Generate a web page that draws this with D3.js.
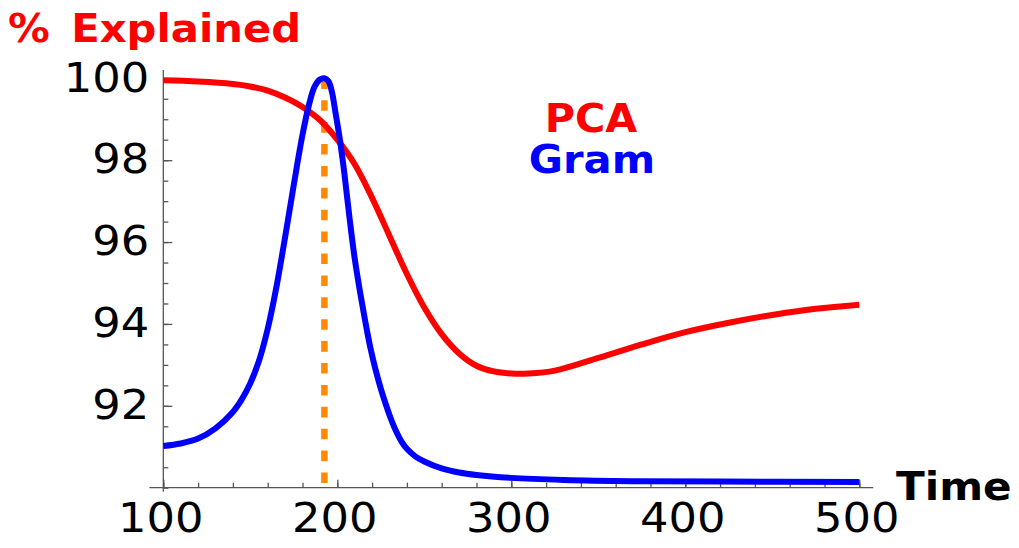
<!DOCTYPE html>
<html>
<head>
<meta charset="utf-8">
<script src="https://cdn.jsdelivr.net/npm/d3@7"></script>
<style>
  html, body { margin: 0; padding: 0; background: #fff; }
  svg { display: block; }
  text { font-family: "DejaVu Sans", sans-serif; }
</style>
</head>
<body>
<svg id="chart" width="1019" height="548"></svg>
<script>
// Time samples and percentage of variance explained
const pcaTime = [100, 120, 140, 150, 160, 170, 180, 190, 200, 210, 220, 230, 240, 250, 260, 270, 280, 290, 300, 310, 325, 350, 375, 400, 425, 450, 475, 500];
const pcaValues = [99.95, 99.92, 99.86, 99.8, 99.7, 99.53, 99.3, 98.98, 98.5, 97.9, 97.08, 96.15, 95.22, 94.4, 93.75, 93.28, 92.98, 92.84, 92.79, 92.79, 92.86, 93.17, 93.5, 93.8, 94.03, 94.22, 94.37, 94.47];

const gramTime = [100, 110, 120, 130, 140, 145, 150, 155, 160, 165, 170, 175, 180, 184, 187, 190, 192.6, 195, 197, 199, 201.5, 204, 207, 210, 213, 216, 219, 222, 225, 228, 231, 234, 237, 240, 245, 250, 260, 270, 280, 300, 330, 370, 420, 500];
const gramValues = [91.02, 91.08, 91.2, 91.45, 91.85, 92.15, 92.55, 93.1, 93.88, 94.9, 96.12, 97.4, 98.62, 99.4, 99.8, 99.97, 100.0, 99.92, 99.65, 99.15, 98.5, 97.7, 96.6, 95.6, 94.8, 94.08, 93.42, 92.88, 92.42, 92.02, 91.66, 91.36, 91.12, 90.95, 90.76, 90.64, 90.47, 90.37, 90.31, 90.24, 90.19, 90.16, 90.15, 90.14];

const peakTime = 192.6;

const xMajor = [100, 200, 300, 400, 500];
const xMinor = d3.range(100, 501, 20);
const yMajor = [92, 94, 96, 98, 100];
const yMinor = d3.range(90, 100.01, 0.5);

const svg = d3.select("#chart");

const x = d3.scaleLinear().domain([100, 500]).range([163.3, 859.3]);
const y = d3.scaleLinear().domain([90, 100]).range([487.7, 78.3]);

const axisColor = "#555";
const tickStretch = 1.12;

// Axis lines, running a little past the data range
svg.append("line")
  .attr("x1", x(92)).attr("x2", x(508))
  .attr("y1", y(90)).attr("y2", y(90))
  .attr("stroke", axisColor).attr("stroke-width", 1.3);
svg.append("line")
  .attr("x1", x(100)).attr("x2", x(100))
  .attr("y1", y(89.9)).attr("y2", y(100.2))
  .attr("stroke", axisColor).attr("stroke-width", 1.3);

// Minor ticks
const gxMinor = svg.append("g").attr("transform", `translate(0,${y(90)})`)
  .call(d3.axisBottom(x).tickValues(xMinor).tickSize(-5).tickFormat(""));
const gyMinor = svg.append("g").attr("transform", `translate(${x(100)},0)`)
  .call(d3.axisLeft(y).tickValues(yMinor).tickSize(-5).tickFormat(""));

// Major ticks with labels
const gx = svg.append("g").attr("transform", `translate(0,${y(90)})`)
  .call(d3.axisBottom(x).tickValues(xMajor).tickSize(-8).tickPadding(16).tickFormat(d3.format("d")));
const gy = svg.append("g").attr("transform", `translate(${x(100)},0)`)
  .call(d3.axisLeft(y).tickValues(yMajor).tickSize(-9).tickPadding(14).tickFormat(d3.format("d")));

[gxMinor, gyMinor, gx, gy].forEach(g => {
  g.select(".domain").remove();
  g.selectAll(".tick line").attr("stroke", axisColor).attr("stroke-width", 1.3);
});
[gx, gy].forEach(g => {
  g.selectAll(".tick text")
    .attr("font-family", "DejaVu Sans")
    .attr("font-size", 40)
    .attr("fill", "#000");
});
// Slightly wider digits, stretched about each label's anchor
gx.selectAll(".tick text")
  .attr("x", -3 / tickStretch)
  .attr("transform", `scale(${tickStretch},1)`);
gy.selectAll(".tick text")
  .attr("x", -14 / tickStretch)
  .attr("transform", `scale(${tickStretch},1)`);

// Dashed marker at the Gram peak
svg.append("line")
  .attr("x1", x(peakTime)).attr("x2", x(peakTime))
  .attr("y1", y(100)).attr("y2", y(90))
  .attr("stroke", "#ff8a00")
  .attr("stroke-width", 6.5)
  .attr("stroke-dasharray", "10.6 11.3");

const line = (ts, vs) => d3.line()
  .x((d, i) => x(ts[i]))
  .y(d => y(d))
  .curve(d3.curveCatmullRom.alpha(0.5))(vs);

svg.append("path")
  .attr("d", line(pcaTime, pcaValues))
  .attr("fill", "none").attr("stroke", "#ff0000").attr("stroke-width", 6)
  .attr("stroke-linejoin", "round");

svg.append("path")
  .attr("d", line(gramTime, gramValues))
  .attr("fill", "none").attr("stroke", "#0000ff").attr("stroke-width", 6)
  .attr("stroke-linejoin", "round");

// Titles and legend
function label(txt, xPos, yPos, color, anchor, stretch) {
  return svg.append("text")
    .attr("transform", `translate(${xPos},${yPos}) scale(${stretch || 1.07},1)`)
    .attr("fill", color)
    .attr("text-anchor", anchor || "start")
    .attr("font-family", "DejaVu Sans")
    .attr("font-weight", "bold")
    .attr("font-size", 39)
    .text(txt);
}

const yTitle = label("%", 8, 42, "#ff0000");
yTitle.append("tspan").attr("dx", 20).text("Explained");

label("Time", 896, 500, "#000", "start", 1.08);
label("PCA", 591, 132, "#ff0000", "middle", 1.06);
label("Gram", 592, 173, "#0000ff", "middle", 1.07);
</script>
</body>
</html>
